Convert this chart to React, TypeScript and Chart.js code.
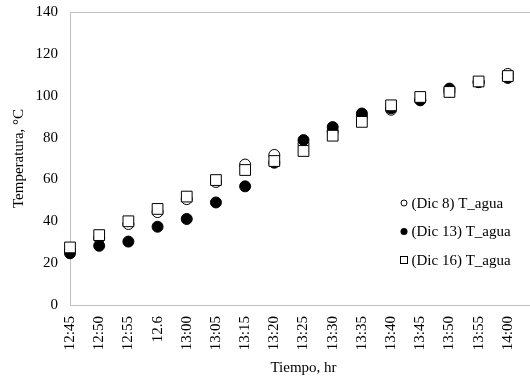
import React, { useEffect, useRef } from "react";
import { Chart, registerables } from "chart.js";

Chart.register(...registerables);

const categories = [
  "12:45", "12:50", "12:55", "12.6", "13:00", "13:05", "13:15", "13:20",
  "13:25", "13:30", "13:35", "13:40", "13:45", "13:50", "13:55", "14:00", "",
];
const dic8 = [26, 32, 38.7, 44.4, 50.6, 58.8, 67.1, 71.7, 77, 83, 90, 93.3, 97.8, 102, 106.5, 110.4, null];
const dic13 = [24.7, 28.3, 30.3, 37.4, 41.1, 49, 56.7, 68, 78.8, 85, 91.5, 94, 98, 103.4, 106.5, 108.5, null];
const dic16 = [27.5, 33.4, 40, 45.9, 51.8, 59.7, 64.5, 68.8, 73.6, 80.9, 87.5, 95.4, 99.4, 101.8, 106.8, 109.4, 111.5];
const legendLabels = ["(Dic 8) T_agua", "(Dic 13) T_agua", "(Dic 16) T_agua"];
const xTitle = "Tiempo, hr";
const yTitle = "Temperatura, °C";
const yMin = 0;
const yMax = 140;
const yStep = 20;

const FONT = "'Liberation Serif', 'Times New Roman', serif";
const FRAME = "#bfbfbf";

const framePlugin = {
  id: "frame",
  beforeDatasetsDraw(chart: any) {
    const { ctx, chartArea } = chart;
    ctx.save();
    ctx.strokeStyle = FRAME;
    ctx.lineWidth = 1;
    const l = Math.round(chartArea.left) + 0.5;
    const t = Math.round(chartArea.top) + 0.5;
    const r = Math.round(chartArea.right) + 0.5;
    const b = Math.round(chartArea.bottom) + 0.5;
    ctx.beginPath();
    ctx.moveTo(r, t);
    ctx.lineTo(l, t);
    ctx.lineTo(l, b);
    ctx.lineTo(r, b);
    ctx.stroke();
    ctx.restore();
  },
};

const legendPlugin = {
  id: "innerLegend",
  afterDraw(chart: any) {
    const ctx = chart.ctx;
    ctx.save();
    ctx.font = `15px ${FONT}`;
    ctx.textBaseline = "middle";
    ctx.textAlign = "left";
    legendLabels.forEach((label, i) => {
      const y = 203 + i * 28.5;
      const mx = 404;
      ctx.lineWidth = 1;
      ctx.strokeStyle = "#000";
      ctx.fillStyle = "#000";
      if (i === 0) {
        ctx.beginPath();
        ctx.arc(mx, y, 3, 0, Math.PI * 2);
        ctx.fillStyle = "#fff";
        ctx.fill();
        ctx.stroke();
      } else if (i === 1) {
        ctx.beginPath();
        ctx.arc(mx, y, 3.5, 0, Math.PI * 2);
        ctx.fill();
      } else {
        ctx.fillStyle = "#fff";
        ctx.fillRect(mx - 3.5, y - 3.5, 7, 7);
        ctx.strokeRect(mx - 3.5, y - 3.5, 7, 7);
      }
      ctx.fillStyle = "#000";
      ctx.fillText(label, 411.5, y + 1);
    });
    ctx.restore();
  },
};

export default function App() {
  const ref = useRef<HTMLCanvasElement | null>(null);

  useEffect(() => {
    if (!ref.current) return;
    Chart.defaults.font.family = FONT;
    Chart.defaults.font.size = 15;
    Chart.defaults.color = "#000";
    const chart = new Chart(ref.current, {
      type: "line",
      data: {
        labels: categories,
        datasets: [
          {
            label: legendLabels[0],
            data: dic8,
            showLine: false,
            pointStyle: "circle",
            pointRadius: 5.5,
            pointBorderWidth: 1,
            pointBackgroundColor: "#fff",
            pointBorderColor: "#000",
            order: 2,
          },
          {
            label: legendLabels[1],
            data: dic13,
            showLine: false,
            pointStyle: "circle",
            pointRadius: 5.5,
            pointBorderWidth: 1,
            pointBackgroundColor: "#000",
            pointBorderColor: "#000",
            order: 1,
          },
          {
            label: legendLabels[2],
            data: dic16,
            showLine: false,
            pointStyle: "rect",
            pointRadius: 7.6,
            pointBorderWidth: 1,
            pointBackgroundColor: "#fff",
            pointBorderColor: "#000",
            order: 0,
          },
        ],
      },
      options: {
        responsive: false,
        devicePixelRatio: 1,
        animation: false,
        events: [],
        layout: { padding: { left: 0, top: 12, right: 8, bottom: 0 } },
        plugins: { legend: { display: false }, tooltip: { enabled: false } },
        scales: {
          x: {
            type: "category",
            offset: false,
            grid: { display: false, drawTicks: false },
            border: { display: false },
            ticks: {
              autoSkip: false,
              minRotation: 90,
              maxRotation: 90,
              padding: 11,
              color: "#000",
              font: { size: 15, family: FONT },
            },
            title: {
              display: true,
              text: xTitle,
              color: "#000",
              font: { size: 15, family: FONT },
              padding: { top: 0, bottom: 1 },
            },
            afterFit: (s: any) => {
              s.height = 73;
            },
          },
          y: {
            min: yMin,
            max: yMax,
            grid: { display: false, drawTicks: false },
            border: { display: false },
            ticks: {
              stepSize: yStep,
              padding: 12,
              color: "#000",
              font: { size: 15, family: FONT },
            },
            title: {
              display: true,
              text: yTitle,
              color: "#000",
              font: { size: 15, family: FONT },
              padding: { top: 10, bottom: 0 },
            },
            afterFit: (s: any) => {
              s.width = 70;
              s.paddingTop = 0;
              s.paddingBottom = 0;
            },
          },
        },
      },
      plugins: [framePlugin, legendPlugin],
    } as any);
    return () => chart.destroy();
  }, []);

  return (
    <div
      style={{
        position: "fixed",
        left: 0,
        top: 0,
        width: 530,
        height: 378,
        overflow: "hidden",
        background: "#fff",
      }}
    >
      <canvas ref={ref} width={566} height={378} style={{ display: "block", width: 566, height: 378 }} />
    </div>
  );
}
